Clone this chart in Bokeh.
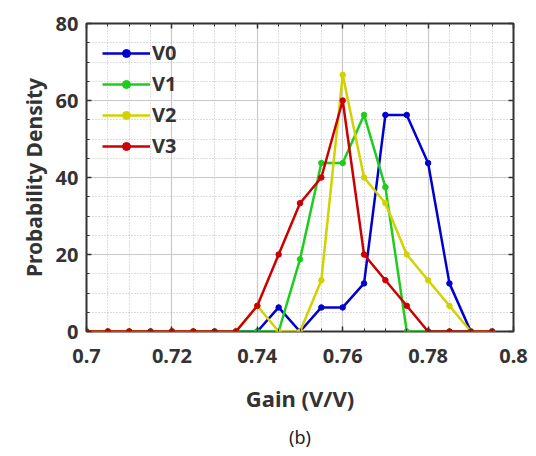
from bokeh.plotting import figure
from bokeh.models import (Range1d, FixedTicker, LinearAxis, Legend, LegendItem, Title,
                          CustomJSTickFormatter)
from bokeh.embed import file_html
from bokeh.resources import INLINE

gain = [0.700, 0.705, 0.710, 0.715, 0.720, 0.725, 0.730, 0.735, 0.740, 0.745,
        0.750, 0.755, 0.760, 0.765, 0.770, 0.775, 0.780, 0.785, 0.790, 0.795]
v0 = [0, 0, 0, 0, 0, 0, 0, 0, 0, 6.25, 0, 6.25, 6.25, 12.5, 56.25, 56.25, 43.75, 12.5, 0, 0]
v1 = [0, 0, 0, 0, 0, 0, 0, 0, 0, 0, 18.75, 43.75, 43.75, 56.25, 37.5, 0, 0, 0, 0, 0]
v2 = [0, 0, 0, 0, 0, 0, 0, 0, 6.67, 0, 0, 13.33, 66.67, 40.0, 33.33, 20.0, 13.33, 6.67, 0, 0]
v3 = [0, 0, 0, 0, 0, 0, 0, 0, 6.67, 20.0, 33.33, 40.0, 60.0, 20.0, 13.33, 6.67, 0, 0, 0, 0]
names = ["V0", "V1", "V2", "V3"]
colors = ["#0000d0", "#1ecc1e", "#d2d200", "#cc0000"]
x_ticks = [0.70, 0.72, 0.74, 0.76, 0.78, 0.80]
x_tick_labels = ["0.7", "0.72", "0.74", "0.76", "0.78", "0.8"]
x_minor = [round(0.700 + 0.005 * i, 3) for i in range(21)]
y_ticks = [0, 20, 40, 60, 80]
y_minor = list(range(0, 81, 5))

FONT = "Noto Sans"
TXT = "#333333"

p = figure(width=528, height=455, output_backend="svg", toolbar_location=None,
           x_range=Range1d(0.7, 0.8), y_range=Range1d(0, 80),
           min_border_left=86, min_border_right=15, min_border_top=23,
           min_border_bottom=100)
p.background_fill_color = "white"
p.border_fill_color = "white"
p.outline_line_color = "#333333"
p.outline_line_width = 2

xt = FixedTicker(ticks=x_ticks, minor_ticks=x_minor)
yt = FixedTicker(ticks=y_ticks, minor_ticks=y_minor)

for ax in p.xaxis:
    ax.ticker = xt
for ax in p.yaxis:
    ax.ticker = yt

def style_axis(ax, labels=True):
    ax.axis_line_color = None
    ax.major_tick_in = 5
    ax.major_tick_out = 0
    ax.minor_tick_in = 3
    ax.minor_tick_out = 0
    ax.major_tick_line_color = "#333333"
    ax.major_tick_line_width = 1.5
    ax.minor_tick_line_color = "#333333"
    if labels:
        ax.major_label_text_font = FONT
        ax.major_label_text_font_style = "bold"
        ax.major_label_text_font_size = "20px"
        ax.major_label_text_color = TXT
        ax.axis_label_text_font = FONT
        ax.axis_label_text_font_style = "bold"
        ax.axis_label_text_color = TXT

style_axis(p.xaxis[0])
style_axis(p.yaxis[0])
p.xaxis[0].axis_label = "Gain (V/V)"
p.xaxis[0].axis_label_text_font_size = "22px"
p.yaxis[0].axis_label = "Probability Density"
p.yaxis[0].axis_label_text_font_size = "21px"
p.xaxis[0].major_label_standoff = 17
p.xaxis[0].axis_label_standoff = 17
p.yaxis[0].major_label_standoff = 8
p.yaxis[0].axis_label_standoff = 5
p.xaxis[0].major_label_overrides = dict(zip(x_ticks, x_tick_labels))

blank = CustomJSTickFormatter(code="return ''")
top = LinearAxis(ticker=xt, formatter=blank, major_label_standoff=0)
right = LinearAxis(ticker=yt, formatter=blank, major_label_standoff=0)
style_axis(top, labels=False)
style_axis(right, labels=False)
p.add_layout(top, "above")
p.add_layout(right, "right")

p.xgrid.ticker = xt
p.ygrid.ticker = yt
for g in (p.xgrid[0], p.ygrid[0]):
    g.grid_line_color = "#c8c8c8"
    g.grid_line_width = 1.2
    g.minor_grid_line_color = "#bbbbbb"
    g.minor_grid_line_dash = "1 2"
    g.minor_grid_line_width = 1

items = []
for name, ys, c in zip(names, [v0, v1, v2, v3], colors):
    r1 = p.line(gain, ys, line_color=c, line_width=2.5)
    r2 = p.scatter(gain, ys, size=5.5, fill_color=c, line_color=c)
    items.append(LegendItem(label=name, renderers=[r1, r2]))

leg = Legend(items=items, location="top_left")
leg.background_fill_alpha = 0
leg.border_line_color = None
leg.margin = 16
leg.padding = 0
leg.glyph_width = 48
leg.glyph_height = 20
leg.label_height = 20
leg.spacing = 4
leg.label_standoff = 2
leg.label_text_font = FONT
leg.label_text_font_style = "bold"
leg.label_text_font_size = "20px"
leg.label_text_color = TXT
p.add_layout(leg)

cap = Title(text="(b)", align="center", text_font=FONT, text_font_style="normal",
            text_font_size="18px", text_color="#222222", standoff=14)
p.add_layout(cap, "below")

open("out.html", "w").write(file_html(p, INLINE))
